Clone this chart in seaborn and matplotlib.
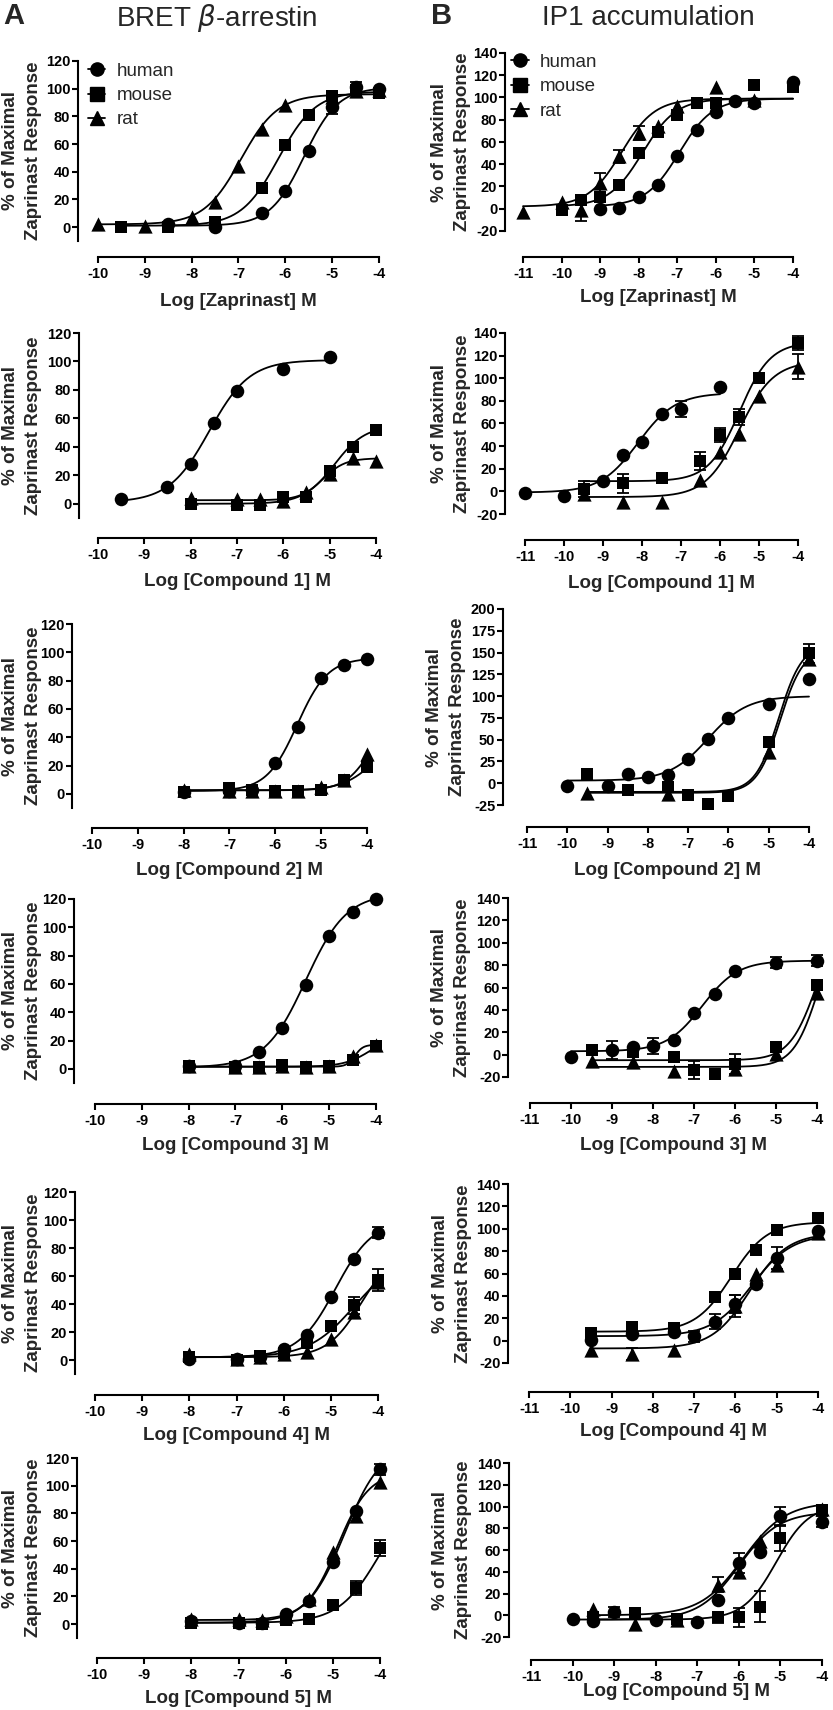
import numpy as np
import pandas as pd
import matplotlib
matplotlib.use("Agg")
import matplotlib.pyplot as plt
from matplotlib.lines import Line2D
import seaborn as sns

# ------------------------------------------------------------
# Data (log molar conc., % of zaprinast max)
# fit = [bottom, top, logEC50, hill] of the drawn curve
# ------------------------------------------------------------

# A1 - BRET, Zaprinast
a1_hu_x = [-8.5, -7.5, -6.5, -6, -5.5, -5, -4.5, -4]
a1_hu_y = [2, 0, 10, 26, 55, 87, 101, 100]
a1_hu_e = [0, 0, 0, 0, 0, 5, 4, 0]
a1_hu_fit = [1, 101, -5.6, 1.2]
a1_mo_x = [-9.5, -8.5, -7.5, -6.5, -6, -5.5, -5, -4.5, -4]
a1_mo_y = [0, 0, 4, 28, 59, 81, 95, 99, 97]
a1_mo_e = [0, 0, 0, 0, 0, 0, 0, 0, 0]
a1_mo_fit = [1, 98, -6.15, 1.1]
a1_ra_x = [-10, -9, -8, -7.5, -7, -6.5, -6, -5, -4.5, -4]
a1_ra_y = [2, 1, 7, 18, 44, 71, 88, 94, 98, 99]
a1_ra_e = [0, 0, 0, 0, 0, 0, 0, 0, 0, 0]
a1_ra_fit = [2, 96, -6.95, 1.1]

# A2 - BRET, Compound 1
a2_hu_x = [-9.5, -8.5, -8, -7.5, -7, -6, -5]
a2_hu_y = [3, 12, 28, 57, 79, 95, 103]
a2_hu_e = [0, 0, 0, 0, 0, 0, 0]
a2_hu_fit = [1, 101, -7.6, 1.0]
a2_mo_x = [-8, -7, -6.5, -6, -5.5, -5, -4.5, -4]
a2_mo_y = [0, -1, -1, 5, 5, 23, 40, 52]
a2_mo_e = [0, 0, 0, 0, 0, 0, 0, 0]
a2_mo_fit = [0, 55, -4.9, 1.3]
a2_ra_x = [-8, -7, -6.5, -6, -5.5, -5, -4.5, -4]
a2_ra_y = [4, 3, 3, 2, 8, 21, 32, 30]
a2_ra_e = [0, 0, 0, 0, 0, 0, 0, 0]
a2_ra_fit = [2.5, 32, -5.15, 1.8]

# A3 - BRET, Compound 2
a3_hu_x = [-8, -7, -6.5, -6, -5.5, -5, -4.5, -4]
a3_hu_y = [1, 2, 3, 22, 47, 82, 91, 95]
a3_hu_e = [0, 0, 0, 0, 0, 0, 0, 0]
a3_hu_fit = [2, 96, -5.52, 1.3]
a3_mo_x = [-8, -7, -6.5, -6, -5.5, -5, -4.5, -4]
a3_mo_y = [1, 4, 3, 2, 2, 3, 10, 19]
a3_mo_e = [0, 0, 0, 0, 0, 0, 0, 0]
a3_mo_fit = [2.5, 45, -3.8, 1.2]
a3_ra_x = [-8, -7, -6.5, -6, -5.5, -5, -4.5, -4]
a3_ra_y = [3, 2, 2, 2, 2, 5, 10, 28]
a3_ra_e = [0, 0, 0, 0, 0, 0, 0, 0]
a3_ra_fit = [2.5, 60, -3.9, 1.5]

# A4 - BRET, Compound 3
a4_hu_x = [-8, -7, -6.5, -6, -5.5, -5, -4.5, -4]
a4_hu_y = [2, 2, 12, 29, 59, 94, 111, 120]
a4_hu_e = [0, 0, 0, 0, 0, 0, 0, 0]
a4_hu_fit = [1, 124, -5.5, 1.0]
a4_mo_x = [-8, -7, -6.5, -6, -5.5, -5, -4.5, -4]
a4_mo_y = [2, 1, 1, 3, 1, 2, 6, 16]
a4_mo_e = [0, 0, 0, 0, 0, 0, 0, 0]
a4_mo_fit = [1.5, 25, -4.1, 1.5]
a4_ra_x = [-8, -7, -6.5, -6, -5.5, -5, -4.5, -4]
a4_ra_y = [2, 1, 1, 2, 1, 2, 9, 17]
a4_ra_e = [0, 0, 0, 0, 0, 0, 0, 0]
a4_ra_fit = [1.5, 17, -4.45, 5.0]

# A5 - BRET, Compound 4
a5_hu_x = [-8, -7, -6.5, -6, -5.5, -5, -4.5, -4]
a5_hu_y = [1, 1, 2, 8, 18, 45, 72, 91]
a5_hu_e = [0, 0, 0, 0, 0, 0, 0, 4]
a5_hu_fit = [2, 100, -4.9, 1.1]
a5_mo_x = [-8, -7, -6.5, -6, -5.5, -5, -4.5, -4]
a5_mo_y = [2, 0, 3, 5, 12, 24, 39, 57]
a5_mo_e = [0, 0, 0, 0, 0, 0, 6, 8]
a5_mo_fit = [2, 75, -4.5, 0.9]
a5_ra_x = [-8, -7, -6.5, -6, -5.5, -5, -4.5, -4]
a5_ra_y = [4, 1, 2, 4, 6, 15, 34, 56]
a5_ra_e = [0, 0, 0, 0, 0, 0, 0, 0]
a5_ra_fit = [2, 80, -4.35, 1.2]

# A6 - BRET, Compound 5
a6_hu_x = [-8, -7, -6.5, -6, -5.5, -5, -4.5, -4]
a6_hu_y = [2, 1, 1, 7, 17, 45, 82, 112]
a6_hu_e = [0, 0, 0, 0, 0, 0, 0, 4]
a6_hu_fit = [1, 130, -4.75, 1.1]
a6_mo_x = [-8, -7, -6.5, -6, -5.5, -5, -4.5, -4]
a6_mo_y = [1, 1, 0, 3, 4, 14, 26, 55]
a6_mo_e = [0, 0, 0, 0, 0, 0, 5, 6]
a6_mo_fit = [1, 100, -4.0, 1.0]
a6_ra_x = [-8, -7, -6.5, -6, -5.5, -5, -4.5, -4]
a6_ra_y = [4, 4, 3, 6, 18, 52, 78, 103]
a6_ra_e = [0, 0, 0, 0, 0, 0, 0, 0]
a6_ra_fit = [3, 110, -4.9, 1.3]

# B1 - IP1, Zaprinast
b1_hu_x = [-9, -8.5, -8, -7.5, -7, -6.5, -6, -5.5, -5, -4]
b1_hu_y = [0, 1, 11, 21, 47, 71, 87, 97, 95, 114]
b1_hu_e = [0, 0, 0, 0, 0, 0, 0, 0, 0, 0]
b1_hu_fit = [2, 99, -6.95, 1.0]
b1_mo_x = [-10, -9.5, -9, -8.5, -8, -7.5, -7, -6.5, -6, -5, -4]
b1_mo_y = [-1, 8, 11, 21, 50, 69, 84, 95, 95, 111, 109]
b1_mo_e = [0, 0, 0, 0, 4, 4, 0, 0, 0, 4, 0]
b1_mo_fit = [2, 99, -7.9, 1.0]
b1_ra_x = [-11, -10, -9.5, -9, -8.5, -8, -7.5, -7, -6, -5]
b1_ra_y = [-3, 6, -1, 23, 47, 68, 74, 92, 109, 98]
b1_ra_e = [0, 0, 10, 9, 6, 6, 0, 0, 0, 0]
b1_ra_fit = [2, 99, -8.45, 1.0]

# B2 - IP1, Compound 1
b2_hu_x = [-11, -10, -9, -8.5, -8, -7.5, -7, -6]
b2_hu_y = [-1, -4, 9, 32, 44, 68, 73, 92]
b2_hu_e = [0, 0, 0, 0, 0, 0, 7, 0]
b2_hu_fit = [-1, 87, -8.1, 0.9]
b2_mo_x = [-9.5, -8.5, -7.5, -6.5, -6, -5.5, -5, -4]
b2_mo_y = [2, 7, 12, 27, 50, 66, 100, 131]
b2_mo_e = [7, 8, 0, 8, 6, 7, 0, 6]
b2_mo_fit = [9, 132, -5.5, 1.1]
b2_ra_x = [-9.5, -8.5, -7.5, -6.5, -6, -5.5, -5, -4]
b2_ra_y = [-2, -9, -9, 10, 35, 51, 84, 110]
b2_ra_e = [0, 0, 0, 0, 0, 0, 0, 11]
b2_ra_fit = [-5, 115, -5.5, 1.0]

# B3 - IP1, Compound 2
b3_hu_x = [-10, -9, -8.5, -8, -7.5, -7, -6.5, -6, -5, -4]
b3_hu_y = [-3, -3, 11, 7, 10, 28, 51, 75, 91, 120]
b3_hu_e = [0, 0, 0, 0, 0, 0, 0, 0, 0, 0]
b3_hu_fit = [3, 100, -6.5, 0.9]
b3_mo_x = [-9.5, -8.5, -7.5, -7, -6.5, -6, -5, -4]
b3_mo_y = [11, -8, -4, -13, -24, -15, 47, 149]
b3_mo_e = [0, 0, 0, 0, 0, 0, 0, 11]
b3_mo_fit = [-10, 160, -4.75, 1.5]
b3_ra_x = [-9.5, -7.5, -5, -4]
b3_ra_y = [-11, -12, 36, 143]
b3_ra_e = [0, 0, 0, 0]
b3_ra_fit = [-11, 155, -4.72, 1.5]

# B4 - IP1, Compound 3
b4_hu_x = [-10, -9, -8.5, -8, -7.5, -7, -6.5, -6, -5, -4]
b4_hu_y = [-2, 4, 7, 8, 13, 37, 54, 75, 82, 84]
b4_hu_e = [0, 8, 0, 7, 0, 0, 0, 0, 5, 5]
b4_hu_fit = [3, 84, -6.8, 1.0]
b4_mo_x = [-9.5, -8.5, -7.5, -7, -6.5, -6, -5, -4]
b4_mo_y = [4, 2, -2, -14, -17, -8, 7, 62]
b4_mo_e = [0, 0, 0, 8, 0, 9, 0, 0]
b4_mo_fit = [-5, 130, -4.0, 1.3]
b4_ra_x = [-9.5, -8.5, -7.5, -6, -5, -4]
b4_ra_y = [-6, -7, -15, -13, 1, 55]
b4_ra_e = [0, 0, 0, 0, 0, 0]
b4_ra_fit = [-11, 130, -3.95, 1.4]

# B5 - IP1, Compound 4
b5_hu_x = [-9.5, -8.5, -7.5, -7, -6.5, -6, -5.5, -5, -4]
b5_hu_y = [1, 6, 8, 4, 17, 33, 51, 74, 98]
b5_hu_e = [0, 0, 0, 5, 7, 8, 0, 10, 0]
b5_hu_fit = [4, 95, -5.6, 0.9]
b5_mo_x = [-9.5, -8.5, -7.5, -6.5, -6, -5.5, -5, -4]
b5_mo_y = [7, 12, 11, 39, 60, 81, 99, 110]
b5_mo_e = [0, 0, 0, 0, 0, 0, 0, 0]
b5_mo_fit = [8, 106, -6.1, 1.0]
b5_ra_x = [-9.5, -8.5, -7.5, -6, -5.5, -5, -4]
b5_ra_y = [-8, -12, -8, 31, 60, 68, 96]
b5_ra_e = [0, 5, 0, 10, 0, 0, 0]
b5_ra_fit = [-7, 96, -5.65, 0.95]

# B6 - IP1, Compound 5
b6_hu_x = [-10, -9.5, -9, -8, -7, -6.5, -6, -5.5, -5, -4]
b6_hu_y = [-3, -5, 3, -4, -6, 14, 48, 58, 91, 86]
b6_hu_e = [0, 0, 5, 0, 0, 0, 9, 0, 9, 5]
b6_hu_fit = [-4, 95, -6.0, 0.9]
b6_mo_x = [-9.5, -8.5, -7.5, -6.5, -6, -5.5, -5, -4]
b6_mo_y = [-2, 2, -3, -2, -2, 8, 71, 97]
b6_mo_e = [0, 0, 0, 5, 9, 14, 12, 0]
b6_mo_fit = [-4, 102, -5.1, 1.1]
b6_ra_x = [-9.5, -8.5, -7.5, -6.5, -6, -5.5, -4]
b6_ra_y = [6, -8, -4, 28, 40, 68, 98]
b6_ra_e = [0, 0, 0, 7, 0, 0, 0]
b6_ra_fit = [0, 104, -5.9, 0.85]

species = ["human", "mouse", "rat"]
markers = {"human": "o", "mouse": "s", "rat": "^"}
sizes = {"human": 95, "mouse": 85, "rat": 105}

xlabels = ["Log [Zaprinast] M", "Log [Compound 1] M", "Log [Compound 2] M",
           "Log [Compound 3] M", "Log [Compound 4] M", "Log [Compound 5] M"]
ylabel = "% of Maximal\nZaprinast Response"

# ------------------------------------------------------------
# style
# ------------------------------------------------------------
sns.set_style("ticks")
plt.rcParams["font.family"] = ["Liberation Sans", "DejaVu Sans"]
plt.rcParams["font.weight"] = "normal"
plt.rcParams["axes.labelweight"] = "bold"
plt.rcParams["mathtext.fontset"] = "dejavusans"

W, H = 833, 1710
fig = plt.figure(figsize=(W / 100, H / 100), dpi=100)
PT = 0.72  # points per pixel at dpi 100


def curve(x, p):
    bottom, top, ec50, hill = p
    return bottom + (top - bottom) / (1 + 10 ** ((ec50 - x) * hill))


def panel(series, xmin, ylim, yticks, box, xlabel, ylab_x, xlab_y):
    xl, xr, yt, yb, yax, xax = box
    ax = fig.add_axes([xl / W, 1 - yb / H, (xr - xl) / W, (yb - yt) / H])

    # long table, drawn rat -> human -> mouse so squares end on top
    frames = []
    for sp in ["rat", "human", "mouse"]:
        x, y, e, fit = series[sp]
        frames.append(pd.DataFrame({"logc": x, "resp": y, "sem": e, "species": sp}))
        xs = np.linspace(min(x), max(x), 300)
        sns.lineplot(x=xs, y=curve(xs, fit), color="black", lw=1.3, ax=ax,
                     clip_on=False, zorder=2)
    df = pd.concat(frames, ignore_index=True)

    err = df[df["sem"] > 0]
    ax.errorbar(err["logc"], err["resp"], yerr=err["sem"], fmt="none",
                ecolor="black", elinewidth=1.3, capsize=4.5, capthick=1.3,
                clip_on=False, zorder=2)
    for sp in ["rat", "human", "mouse"]:
        sns.scatterplot(data=df[df["species"] == sp], x="logc", y="resp",
                        marker=markers[sp], s=sizes[sp], color="black",
                        linewidth=0, ax=ax, clip_on=False, zorder=3, legend=False)

    ax.set_xlim(xmin, -4)
    ax.set_ylim(*ylim)
    ax.set_xticks(np.arange(xmin, -3, 1))
    ax.set_xticklabels([str(int(v)) for v in np.arange(xmin, -3, 1)])
    ax.set_yticks(yticks)
    ax.set_yticklabels([str(v) for v in yticks])

    sns.despine(ax=ax)
    ax.spines["left"].set_position(("outward", (xl - yax) * PT))
    ax.spines["bottom"].set_position(("outward", (xax - yb) * PT))
    for s in ["left", "bottom"]:
        ax.spines[s].set_linewidth(1.5)
        ax.spines[s].set_color("black")
    ax.tick_params(axis="both", direction="out", length=4.5, width=1.5,
                   colors="black", labelsize=10.5)
    ax.tick_params(axis="y", pad=1)
    ax.tick_params(axis="x", pad=3)
    for t in ax.get_xticklabels() + ax.get_yticklabels():
        t.set_fontweight("bold")

    ax.set_xlabel(xlabel, fontsize=13.5, fontweight="bold", va="center")
    ax.set_ylabel(ylabel, fontsize=13.5, fontweight="bold", va="center",
                  ha="center", linespacing=1.45)
    ax.xaxis.set_label_coords(0.5, (yb - xlab_y) / (yb - yt))
    ax.yaxis.set_label_coords((ylab_x - xl) / (xr - xl), 0.5)
    ax.patch.set_alpha(0)
    return ax


A = [
    {"human": (a1_hu_x, a1_hu_y, a1_hu_e, a1_hu_fit), "mouse": (a1_mo_x, a1_mo_y, a1_mo_e, a1_mo_fit), "rat": (a1_ra_x, a1_ra_y, a1_ra_e, a1_ra_fit)},
    {"human": (a2_hu_x, a2_hu_y, a2_hu_e, a2_hu_fit), "mouse": (a2_mo_x, a2_mo_y, a2_mo_e, a2_mo_fit), "rat": (a2_ra_x, a2_ra_y, a2_ra_e, a2_ra_fit)},
    {"human": (a3_hu_x, a3_hu_y, a3_hu_e, a3_hu_fit), "mouse": (a3_mo_x, a3_mo_y, a3_mo_e, a3_mo_fit), "rat": (a3_ra_x, a3_ra_y, a3_ra_e, a3_ra_fit)},
    {"human": (a4_hu_x, a4_hu_y, a4_hu_e, a4_hu_fit), "mouse": (a4_mo_x, a4_mo_y, a4_mo_e, a4_mo_fit), "rat": (a4_ra_x, a4_ra_y, a4_ra_e, a4_ra_fit)},
    {"human": (a5_hu_x, a5_hu_y, a5_hu_e, a5_hu_fit), "mouse": (a5_mo_x, a5_mo_y, a5_mo_e, a5_mo_fit), "rat": (a5_ra_x, a5_ra_y, a5_ra_e, a5_ra_fit)},
    {"human": (a6_hu_x, a6_hu_y, a6_hu_e, a6_hu_fit), "mouse": (a6_mo_x, a6_mo_y, a6_mo_e, a6_mo_fit), "rat": (a6_ra_x, a6_ra_y, a6_ra_e, a6_ra_fit)},
]
B = [
    {"human": (b1_hu_x, b1_hu_y, b1_hu_e, b1_hu_fit), "mouse": (b1_mo_x, b1_mo_y, b1_mo_e, b1_mo_fit), "rat": (b1_ra_x, b1_ra_y, b1_ra_e, b1_ra_fit)},
    {"human": (b2_hu_x, b2_hu_y, b2_hu_e, b2_hu_fit), "mouse": (b2_mo_x, b2_mo_y, b2_mo_e, b2_mo_fit), "rat": (b2_ra_x, b2_ra_y, b2_ra_e, b2_ra_fit)},
    {"human": (b3_hu_x, b3_hu_y, b3_hu_e, b3_hu_fit), "mouse": (b3_mo_x, b3_mo_y, b3_mo_e, b3_mo_fit), "rat": (b3_ra_x, b3_ra_y, b3_ra_e, b3_ra_fit)},
    {"human": (b4_hu_x, b4_hu_y, b4_hu_e, b4_hu_fit), "mouse": (b4_mo_x, b4_mo_y, b4_mo_e, b4_mo_fit), "rat": (b4_ra_x, b4_ra_y, b4_ra_e, b4_ra_fit)},
    {"human": (b5_hu_x, b5_hu_y, b5_hu_e, b5_hu_fit), "mouse": (b5_mo_x, b5_mo_y, b5_mo_e, b5_mo_fit), "rat": (b5_ra_x, b5_ra_y, b5_ra_e, b5_ra_fit)},
    {"human": (b6_hu_x, b6_hu_y, b6_hu_e, b6_hu_fit), "mouse": (b6_mo_x, b6_mo_y, b6_mo_e, b6_mo_fit), "rat": (b6_ra_x, b6_ra_y, b6_ra_e, b6_ra_fit)},
]

# panel boxes in pixels: x(-min), x(-4), y(top tick), y(axis bottom), y-axis x, x-axis y
boxA = [(98, 379, 61, 241, 78, 257),
        (98, 376, 333, 518, 79, 538),
        (92, 367, 624, 808, 72, 828),
        (95, 376, 899, 1083, 74, 1104),
        (95, 378, 1192, 1374, 75, 1395),
        (97, 380, 1458, 1638, 77, 1658)]
xlabA = [302, 582, 870, 1145, 1435, 1698]
boxB = [(523, 793, 53, 231, 505, 257),
        (525, 798, 333, 514, 505, 540),
        (527, 809, 609, 805, 503, 827),
        (530, 817, 898, 1077, 508, 1103),
        (529, 818, 1184, 1363, 508, 1392),
        (531, 822, 1463, 1637, 509, 1660)]
xlabB = [297, 583, 870, 1145, 1431, 1691]
ylabB = [451, 451, 446, 451, 452, 452]

axesA, axesB = [], []
for i in range(6):
    axesA.append(panel(A[i], -10, (-10, 120), list(range(0, 121, 20)),
                       boxA[i], xlabels[i], 22, xlabA[i]))
    if i == 2:
        ylim, yt = (-25, 200), list(range(-25, 201, 25))
    else:
        ylim, yt = (-20, 140), list(range(-20, 141, 20))
    axesB.append(panel(B[i], -11, ylim, yt, boxB[i], xlabels[i], ylabB[i], xlabB[i]))

# legends (first row only)
handles = [Line2D([], [], color="black", lw=1.3, marker=markers[sp],
                  markersize=9.5 if sp != "rat" else 10, label=sp) for sp in species]
for ax, (lx, ly) in [(axesA[0], (-0.037, 0.99)), (axesB[0], (-0.044, 0.995))]:
    leg = ax.legend(handles=handles, loc="upper left", bbox_to_anchor=(lx, ly),
                    frameon=False, fontsize=13.5, handlelength=0.95,
                    handletextpad=0.6, labelspacing=0.38, borderpad=0,
                    borderaxespad=0)
    for t in leg.get_texts():
        t.set_fontweight("normal")

# column titles and panel letters
fig.text(217 / W, 1 - 18 / H, r"BRET $\beta$-arrestin", fontsize=20,
         fontweight="normal", ha="center", va="center")
fig.text(648 / W, 1 - 18 / H, "IP1 accumulation", fontsize=20,
         fontweight="normal", ha="center", va="center")
fig.text(14 / W, 1 - 16 / H, "A", fontsize=21, fontweight="bold",
         ha="center", va="center")
fig.text(442 / W, 1 - 16 / H, "B", fontsize=21, fontweight="bold",
         ha="center", va="center")

fig.savefig("out.png", dpi=100, facecolor="white")
